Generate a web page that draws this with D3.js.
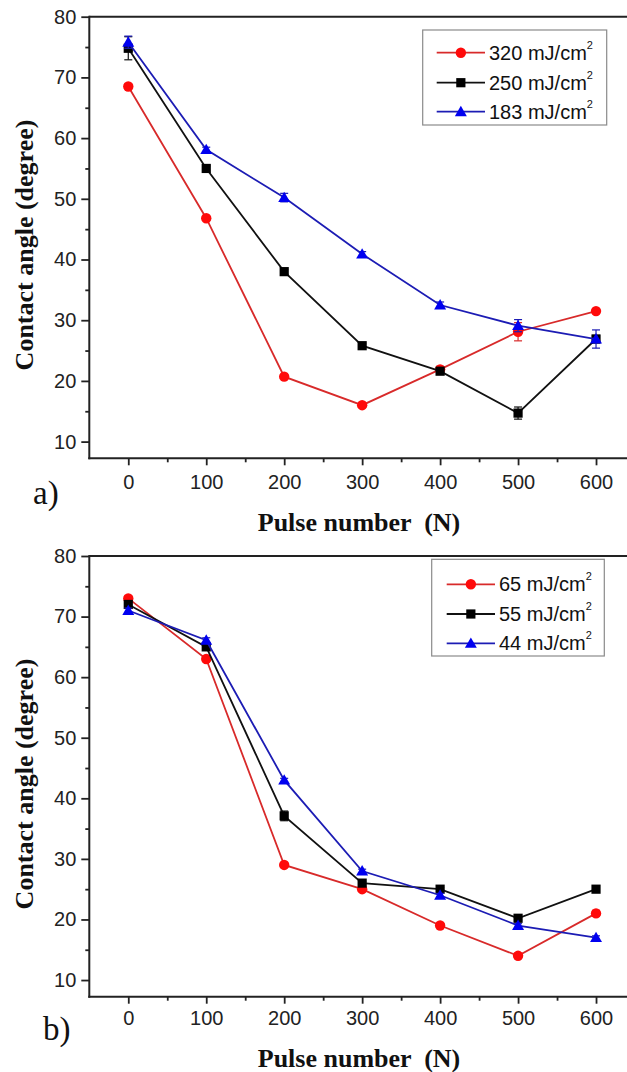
<!DOCTYPE html>
<html>
<head>
<meta charset="utf-8">
<script src="https://cdn.jsdelivr.net/npm/d3@7"></script>
<style>
  html, body { margin: 0; padding: 0; background: #fff; }
  svg { display: block; }
</style>
</head>
<body>
<svg id="chart" width="627" height="1072"></svg>
<script>
// Pulse numbers shared by both panels
const pulses = [0, 100, 200, 300, 400, 500, 600];

// Panel a) – higher fluences
const seriesA = ["320 mJ/cm", "250 mJ/cm", "183 mJ/cm"];
const a320 = [68.5, 46.8, 20.7, 16.0, 21.9, 28.1, 31.5];
const a250 = [74.8, 55.0, 38.0, 25.8, 21.6, 14.7, 26.9];
const a183 = [75.8, 58.1, 50.2, 40.9, 32.5, 29.1, 26.9];
const a320Err = [0.4, 0.3, 0.3, 0.3, 0.5, 1.5, 0.4];
const a250Err = [1.9, 0.4, 0.4, 0.4, 0.5, 1.0, 0.6];
const a183Err = [1.0, 0.4, 0.7, 0.4, 0.5, 1.0, 1.5];

// Panel b) – lower fluences
const seriesB = ["65 mJ/cm", "55 mJ/cm", "44 mJ/cm"];
const b65 = [73.0, 63.0, 29.0, 25.0, 19.0, 14.0, 21.0];
const b55 = [72.0, 65.0, 37.1, 26.0, 25.0, 20.2, 25.0];
const b44 = [71.0, 66.1, 43.0, 28.0, 24.0, 19.0, 17.0];
const b65Err = [0.4, 0.4, 0.3, 0.3, 0.3, 0.4, 0.5];
const b55Err = [0.4, 0.4, 0.8, 0.3, 0.3, 0.4, 0.3];
const b44Err = [0.4, 0.4, 0.3, 0.3, 0.3, 0.3, 0.3];

// Axis ticks
const xMajor = [0, 100, 200, 300, 400, 500, 600];
const xMinor = [50, 150, 250, 350, 450, 550];
const yMajor = [10, 20, 30, 40, 50, 60, 70, 80];
const yMinor = [15, 25, 35, 45, 55, 65, 75];

const styles = [
  { line: "#d82a2a", fill: "#ff0a0a", shape: "circle" },
  { line: "#111111", fill: "#000000", shape: "square" },
  { line: "#1c1cb4", fill: "#0000f0", shape: "triangle" }
];

const svg = d3.select("#chart");
const SANS = "'Liberation Sans', Arial, sans-serif";
const SERIF = "'Liberation Serif', 'Times New Roman', serif";

const x = d3.scaleLinear().domain([-50, 650]).range([89.3, 635]);

function marker(g, shape, cx, cy, fill) {
  if (shape === "circle") {
    g.append("circle").attr("cx", cx).attr("cy", cy).attr("r", 5.2).attr("fill", fill);
  } else if (shape === "square") {
    g.append("rect").attr("x", cx - 4.6).attr("y", cy - 4.6)
      .attr("width", 9.2).attr("height", 9.2).attr("fill", fill);
  } else {
    g.append("path").attr("d", d3.symbol(d3.symbolTriangle, 62)())
      .attr("transform", `translate(${cx},${cy + 1})`).attr("fill", fill);
  }
}

function panel(opts) {
  const { top, bottom, names, values, errors, legend, tag, tagY, tickY, titleY, ytitleY } = opts;
  const y = d3.scaleLinear().domain([7.25, 80]).range([bottom, top]);
  const g = svg.append("g");
  const left = x.range()[0];

  // Frame: left, bottom and top edges
  g.append("line").attr("x1", left).attr("x2", 627).attr("y1", top).attr("y2", top)
    .attr("stroke", "#222").attr("stroke-width", 2);
  g.append("line").attr("x1", left).attr("x2", left).attr("y1", top - 1).attr("y2", bottom + 1)
    .attr("stroke", "#222").attr("stroke-width", 2);
  g.append("line").attr("x1", left - 1).attr("x2", 627).attr("y1", bottom).attr("y2", bottom)
    .attr("stroke", "#222").attr("stroke-width", 2);

  // Y axis (major ticks with labels, minor ticks without)
  const yAx = g.append("g").attr("transform", `translate(${left},0)`)
    .call(d3.axisLeft(y).tickValues(yMajor).tickSize(8).tickPadding(5).tickFormat(d3.format("d")));
  yAx.select(".domain").remove();
  yAx.selectAll(".tick line").attr("stroke", "#222").attr("stroke-width", 1.8);
  yAx.selectAll(".tick text").attr("font-family", SANS).attr("font-size", 20).attr("fill", "#222");
  const yMin = g.append("g").attr("transform", `translate(${left},0)`)
    .call(d3.axisLeft(y).tickValues(yMinor).tickSize(4).tickFormat(""));
  yMin.select(".domain").remove();
  yMin.selectAll(".tick line").attr("stroke", "#222").attr("stroke-width", 1.8);

  // X axis
  const xAx = g.append("g").attr("transform", `translate(0,${bottom})`)
    .call(d3.axisBottom(x).tickValues(xMajor).tickSize(7).tickPadding(0).tickFormat(d3.format("d")));
  xAx.select(".domain").remove();
  xAx.selectAll(".tick line").attr("stroke", "#222").attr("stroke-width", 1.8);
  xAx.selectAll(".tick text").attr("font-family", SANS).attr("font-size", 20).attr("fill", "#222")
    .attr("dy", null).attr("y", tickY - bottom);
  const xMin = g.append("g").attr("transform", `translate(0,${bottom})`)
    .call(d3.axisBottom(x).tickValues(xMinor).tickSize(4).tickFormat(""));
  xMin.select(".domain").remove();
  xMin.selectAll(".tick line").attr("stroke", "#222").attr("stroke-width", 1.8);

  // Axis titles
  g.append("text").attr("x", 359).attr("y", titleY).attr("text-anchor", "middle")
    .attr("font-family", SERIF).attr("font-weight", "bold").attr("font-size", 26)
    .attr("fill", "#111").attr("xml:space", "preserve").text("Pulse number  (N)");
  g.append("text").attr("transform", `translate(33,${ytitleY}) rotate(-90)`)
    .attr("text-anchor", "middle").attr("font-family", SERIF).attr("font-weight", "bold")
    .attr("font-size", 26).attr("fill", "#111").text("Contact angle (degree)");
  g.append("text").attr("x", tag[0]).attr("y", tagY)
    .attr("font-family", SERIF).attr("font-size", 33).attr("fill", "#111").text(tag[1]);

  // Series: error bars, lines, markers
  const line = d3.line().x((d, i) => x(pulses[i])).y(d => y(d));
  values.forEach((vals, s) => {
    const st = styles[s];
    const sg = g.append("g");
    vals.forEach((v, i) => {
      const e = errors[s][i];
      const cx = x(pulses[i]);
      sg.append("line").attr("x1", cx).attr("x2", cx).attr("y1", y(v - e)).attr("y2", y(v + e))
        .attr("stroke", st.line).attr("stroke-width", 1.2);
      [v - e, v + e].forEach(ev => sg.append("line")
        .attr("x1", cx - 4).attr("x2", cx + 4).attr("y1", y(ev)).attr("y2", y(ev))
        .attr("stroke", st.line).attr("stroke-width", 1.2));
    });
    sg.append("path").datum(vals).attr("d", line).attr("fill", "none")
      .attr("stroke", st.line).attr("stroke-width", 1.8);
    vals.forEach((v, i) => marker(sg, st.shape, x(pulses[i]), y(v), st.fill));
  });

  // Legend
  const L = legend;
  const lg = g.append("g");
  lg.append("rect").attr("x", L.x0).attr("y", L.y0).attr("width", L.x1 - L.x0).attr("height", L.y1 - L.y0)
    .attr("fill", "#fff").attr("stroke", "#8a8a8a").attr("stroke-width", 1.2);
  names.forEach((name, s) => {
    const st = styles[s];
    const ry = L.rows[s];
    lg.append("line").attr("x1", L.lx0).attr("x2", L.lx1).attr("y1", ry).attr("y2", ry)
      .attr("stroke", st.line).attr("stroke-width", 1.8);
    marker(lg, st.shape, (L.lx0 + L.lx1) / 2, ry, st.fill);
    const t = lg.append("text").attr("x", L.tx).attr("y", ry + 7)
      .attr("font-family", SANS).attr("font-size", 20).attr("fill", "#111");
    t.append("tspan").text(name);
    t.append("tspan").attr("font-size", 11).attr("dy", -11).text("2");
  });
}

panel({
  top: 16.7, bottom: 458.3,
  names: seriesA, values: [a320, a250, a183], errors: [a320Err, a250Err, a183Err],
  legend: { x0: 422.7, x1: 606.7, y0: 30, y1: 125, rows: [52.7, 82.7, 111.7], lx0: 436.7, lx1: 485, tx: 489 },
  tag: [33, "a)"], tagY: 504, tickY: 489, titleY: 531, ytitleY: 245
});

panel({
  top: 556, bottom: 996.7,
  names: seriesB, values: [b65, b55, b44], errors: [b65Err, b55Err, b44Err],
  legend: { x0: 431.7, x1: 604.3, y0: 559.3, y1: 656, rows: [584.3, 614, 643.3], lx0: 446.7, lx1: 495, tx: 499 },
  tag: [43, "b)"], tagY: 1040, tickY: 1025, titleY: 1066.5, ytitleY: 784
});
</script>
</body>
</html>
